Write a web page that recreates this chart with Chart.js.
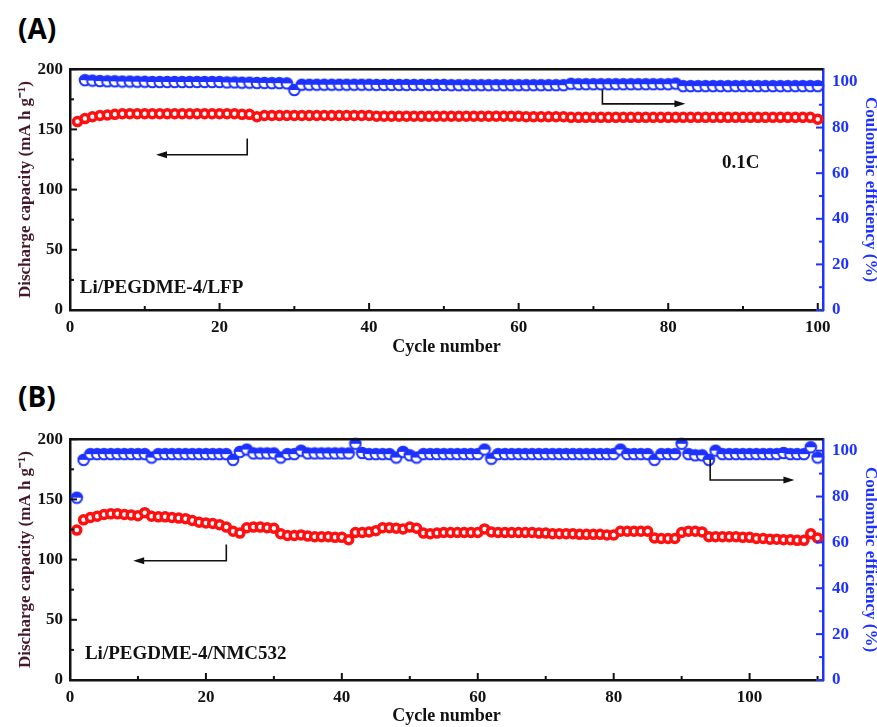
<!DOCTYPE html>
<html>
<head>
<meta charset="utf-8">
<script src="https://cdn.jsdelivr.net/npm/chart.js@4.4.1/dist/chart.umd.min.js"></script>
<style>
  html, body { margin: 0; padding: 0; background: #fff; overflow: hidden; }
  body { width: 877px; height: 727px; position: relative; }
  .tag { position: absolute; left: 18px; font-family: "Open Sans", sans-serif; font-weight: 700; font-size: 28px; color: #000; }
  .box { position: absolute; left: 0; width: 877px; }
</style>
</head>
<body>
<div class="tag" style="top:9px">(A)</div>
<div class="box" style="top:50px;height:310px"><canvas id="chartA"></canvas></div>
<div class="tag" style="top:377px">(B)</div>
<div class="box" style="top:420px;height:307px"><canvas id="chartB"></canvas></div>
<script>
"use strict";

// ---- data ----
const cyclesA = Array.from({ length: 100 }, (_, i) => i + 1);
const cyclesB = Array.from({ length: 110 }, (_, i) => i + 1);

const capacityA = [
  156.5, 159, 160.5, 161.5, 162, 162.5, 163, 163, 163, 163,
  163, 163, 163, 163, 163, 163, 163, 163, 163, 163,
  163, 163, 162.5, 162.5, 160.5, 161.5, 161.5, 161.5, 161.5, 161.5,
  161.5, 161.5, 161.5, 161.5, 161.5, 161.5, 161.5, 161.5, 161.5, 161.5,
  161, 161, 161, 161, 161, 161, 161, 161, 161, 161,
  161, 161, 161, 161, 161, 161, 161, 161, 161, 161,
  160.5, 160.5, 160.5, 160.5, 160.5, 160.5, 160, 160, 160, 160,
  160, 160, 160, 160, 160, 160, 160, 160, 160, 160,
  160, 160, 160, 160, 160, 160, 160, 160, 160, 160,
  160, 160, 160, 160, 160, 160, 160, 160, 160, 158.5
];

const efficiencyA = [
  null, 100.8, 100.6, 100.4, 100.3, 100.3, 100.2, 100.2, 100.1, 100.1,
  100, 100, 100, 100, 100, 100, 100, 100, 100, 100,
  99.8, 99.8, 99.7, 99.7, 99.6, 99.6, 99.5, 99.5, 99.4, 96.5,
  98.8, 98.8, 98.8, 98.8, 98.8, 98.8, 98.8, 98.8, 98.8, 98.8,
  98.7, 98.7, 98.7, 98.7, 98.7, 98.7, 98.7, 98.7, 98.7, 98.7,
  98.6, 98.6, 98.6, 98.6, 98.6, 98.6, 98.6, 98.6, 98.6, 98.6,
  98.6, 98.6, 98.6, 98.6, 98.6, 98.6, 99.2, 99, 99, 99,
  99, 99, 99, 99, 99, 99, 99, 99, 99, 99,
  99.3, 98.2, 98.2, 98.2, 98.2, 98.2, 98.2, 98.2, 98.2, 98.2,
  98.2, 98.2, 98.2, 98.2, 98.2, 98.2, 98.2, 98.2, 98.2, 98.2
];

const capacityB = [
  124.5, 133, 135, 136, 137.5, 138, 138, 137.5, 137, 136.5,
  139, 136, 135.5, 135.5, 135, 134.5, 134, 132.5, 131, 130.5,
  130, 129, 127, 123.5, 122, 126.5, 127, 127, 126.5, 126,
  121.5, 120, 120, 120.5, 119.5, 119, 119, 119, 118.5, 118.5,
  116.5, 122.5, 122.5, 123, 124, 126.5, 126.5, 126, 125.5, 127,
  126, 122, 121.5, 122, 122.5, 122.5, 122.5, 122.5, 122.5, 122.5,
  125.5, 123, 122.5, 122.5, 122.5, 122.5, 122.5, 122.5, 122, 122,
  121.5, 121.5, 121.5, 121.5, 121, 121, 121, 121, 120.5, 120.5,
  123.5, 123.5, 123.5, 123.5, 123.5, 118, 117.5, 117.5, 117.5, 122.5,
  123.5, 123.5, 123, 119, 119, 119, 119, 119, 118.5, 118.5,
  117.5, 117.5, 117, 117, 116.5, 116.5, 116, 116, 121.5, 118
];

const efficiencyB = [
  79.5, 96, 98.5, 98.5, 98.5, 98.5, 98.5, 98.5, 98.5, 98.5,
  98.5, 97, 98.5, 98.5, 98.5, 98.5, 98.5, 98.5, 98.5, 98.5,
  98.5, 98.5, 98.5, 96, 99.5, 100.5, 98.8, 98.8, 98.8, 98.8,
  97, 98.5, 98.5, 100, 98.8, 98.8, 98.8, 98.8, 98.8, 98.8,
  98.8, 103, 99, 98.5, 98.5, 98.5, 98.5, 97, 99.5, 98,
  97, 98.5, 98.5, 98.5, 98.5, 98.5, 98.5, 98.5, 98.5, 98.5,
  100.5, 96.5, 98.5, 98.5, 98.5, 98.5, 98.5, 98.5, 98.5, 98.5,
  98.5, 98.5, 98.5, 98.5, 98.5, 98.5, 98.5, 98.5, 98.5, 98.5,
  100.5, 98.5, 98.5, 98.5, 98.5, 96, 98.5, 98.5, 98.5, 103,
  98.5, 98, 98, 96, 100, 98.5, 98.5, 98.5, 98.5, 98.5,
  98.5, 98.5, 98.5, 98.5, 99, 98.5, 98.5, 98.5, 101.5, 97
];

const xTicksMajor = 20;
const leftTicksMajor = 50;
const rightTicksMajor = 20;

// ---- styling ----
const RED = "#ff1010";
const BLUE = "#1e32ff";
const serif = "'Liberation Serif', 'Times New Roman', serif";
const tickFont = { family: serif, size: 17, weight: "bold" };
const titleFont = { family: serif, size: 18, weight: "bold" };

// half filled circle marker (top half solid)
function halfCircle() {
  const c = document.createElement("canvas");
  c.width = 14; c.height = 14;
  const g = c.getContext("2d");
  g.fillStyle = "#fff";
  g.beginPath(); g.arc(7, 7, 5.3, 0, Math.PI * 2); g.fill();
  g.fillStyle = BLUE;
  g.beginPath(); g.arc(7, 7, 5.3, Math.PI, Math.PI * 2); g.closePath(); g.fill();
  g.strokeStyle = BLUE; g.lineWidth = 2;
  g.beginPath(); g.arc(7, 7, 5.3, 0, Math.PI * 2); g.stroke();
  return c;
}
const blueMarker = halfCircle();

function inwardTicks(ctx, scale, side, majorEvery, color) {
  ctx.strokeStyle = color;
  ctx.lineWidth = 2;
  scale.ticks.forEach((t) => {
    const len = t.value % majorEvery === 0 ? 7 : 4;
    const p = scale.getPixelForValue(t.value);
    ctx.beginPath();
    if (side === "bottom") { ctx.moveTo(p, scale.top); ctx.lineTo(p, scale.top - len); }
    else if (side === "left") { ctx.moveTo(scale.right, p); ctx.lineTo(scale.right + len, p); }
    else { ctx.moveTo(scale.left, p); ctx.lineTo(scale.left - len, p); }
    ctx.stroke();
  });
}

const frameAndNotes = {
  id: "frameAndNotes",
  afterDraw(chart, args, opts) {
    const { ctx, chartArea: a, scales } = chart;
    ctx.save();
    ctx.strokeStyle = "#111";
    ctx.lineWidth = 2.5;
    ctx.beginPath(); ctx.moveTo(a.left - 1, a.top); ctx.lineTo(a.right, a.top); ctx.stroke();

    inwardTicks(ctx, scales.x, "bottom", xTicksMajor, "#111");
    inwardTicks(ctx, scales.y, "left", leftTicksMajor, "#111");
    inwardTicks(ctx, scales.y2, "right", rightTicksMajor, BLUE);

    // bent arrows, given in data units
    ctx.strokeStyle = "#111";
    ctx.fillStyle = "#111";
    ctx.lineWidth = 1.6;
    opts.arrows.forEach((ar) => {
      const ys = scales[ar.axis];
      const x0 = scales.x.getPixelForValue(ar.x0);
      const x1 = scales.x.getPixelForValue(ar.x1);
      const y0 = ys.getPixelForValue(ar.y0);
      const y1 = ys.getPixelForValue(ar.y1);
      const dir = Math.sign(x1 - x0);
      ctx.beginPath();
      ctx.moveTo(x0, y0); ctx.lineTo(x0, y1); ctx.lineTo(x1 - dir * 6, y1);
      ctx.stroke();
      ctx.beginPath();
      ctx.moveTo(x1, y1);
      ctx.lineTo(x1 - dir * 11, y1 - 3.5);
      ctx.lineTo(x1 - dir * 11, y1 + 3.5);
      ctx.closePath(); ctx.fill();
    });

    ctx.font = "bold 19px " + serif;
    ctx.textBaseline = "middle";
    opts.texts.forEach((t) => {
      ctx.textAlign = t.align;
      ctx.fillText(t.text, scales.x.getPixelForValue(t.x), scales.y.getPixelForValue(t.y));
    });
    ctx.restore();
  },
};

function buildChart(id, cycles, capacity, efficiency, cfg) {
  const ctx = document.getElementById(id).getContext("2d");
  return new Chart(ctx, {
    type: "scatter",
    data: {
      datasets: [
        {
          label: "Discharge capacity",
          data: cycles.map((c, i) => ({ x: c, y: capacity[i] })),
          yAxisID: "y",
          pointStyle: "circle",
          pointRadius: 4,
          borderWidth: 3.5,
          borderColor: RED,
          backgroundColor: "#fff",
        },
        {
          label: "Coulombic efficiency",
          data: cycles.map((c, i) => ({ x: c, y: efficiency[i] })),
          yAxisID: "y2",
          pointStyle: blueMarker,
          pointRadius: 5.5,
          borderColor: BLUE,
          backgroundColor: BLUE,
        },
      ],
    },
    options: {
      responsive: true,
      maintainAspectRatio: false,
      animation: false,
      events: [],
      clip: false,
      layout: { padding: { top: cfg.padTop, left: 0, right: 0, bottom: 0 } },
      plugins: {
        legend: { display: false },
        tooltip: { enabled: false },
        frameAndNotes: { arrows: cfg.arrows, texts: cfg.texts },
      },
      scales: {
        x: {
          type: "linear",
          min: 0,
          max: cfg.xMax,
          afterFit: (s) => { s.height = cfg.xHeight; },
          grid: { display: false, drawTicks: false },
          border: { color: "#111", width: 2.5 },
          ticks: {
            stepSize: 10, includeBounds: false, autoSkip: false, maxRotation: 0,
            padding: 7, color: "#111", font: tickFont,
            callback: (v) => (v % xTicksMajor === 0 ? v : ""),
          },
          title: {
            display: true, text: "Cycle number", color: "#111", font: titleFont,
            padding: { top: 0, bottom: cfg.xTitlePad },
          },
        },
        y: {
          position: "left",
          min: 0,
          max: 200,
          afterFit: (s) => { s.width = 70; },
          grid: { display: false, drawTicks: false },
          border: { color: "#111", width: 2.5 },
          ticks: {
            stepSize: 25, includeBounds: false, autoSkip: false,
            padding: 7, color: "#111", font: tickFont,
            callback: (v) => (v % leftTicksMajor === 0 ? v : ""),
          },
          title: {
            display: true, text: "Discharge capacity (mA h g\u207B\u00B9)", color: "#45182a",
            font: { family: serif, size: 17, weight: "bold" },
            padding: { top: 15, bottom: 0 },
          },
        },
        y2: {
          position: "right",
          min: 0,
          max: cfg.y2Max,
          afterFit: (s) => { s.width = 54; },
          grid: { display: false, drawTicks: false },
          border: { color: BLUE, width: 2.5 },
          ticks: {
            stepSize: 10, includeBounds: false, autoSkip: false,
            padding: 9, color: BLUE, font: tickFont,
            callback: (v) => (v % rightTicksMajor === 0 ? v : ""),
          },
          title: {
            display: true, text: "Coulombic efficiency (%)", color: BLUE,
            font: { family: serif, size: 17, weight: "bold", lineHeight: 1 },
            padding: { top: -1.5, bottom: 0 },
          },
        },
      },
    },
    plugins: [frameAndNotes],
  });
}

buildChart("chartA", cyclesA, capacityA, efficiencyA, {
  padTop: 14, xMax: 100.7, xHeight: 50, xTitlePad: 2, y2Max: 105.6,
  arrows: [
    { axis: "y", x0: 23.7, y0: 142.5, y1: 129, x1: 11.5 },
    { axis: "y2", x0: 71.2, y0: 96.6, y1: 90.4, x1: 82.3 },
  ],
  texts: [
    { text: "Li/PEGDME-4/LFP", x: 1.3, y: 18, align: "left" },
    { text: "0.1C", x: 89.7, y: 122, align: "center" },
  ],
});

buildChart("chartB", cyclesB, capacityB, efficiencyB, {
  padTop: 11, xMax: 110.8, xHeight: 47, xTitlePad: 0, y2Max: 105,
  arrows: [
    { axis: "y", x0: 23, y0: 112.5, y1: 99, x1: 9.3 },
    { axis: "y2", x0: 94.2, y0: 96.3, y1: 87.2, x1: 106.6 },
  ],
  texts: [
    { text: "Li/PEGDME-4/NMC532", x: 2.2, y: 21.7, align: "left" },
  ],
});
</script>
</body>
</html>
